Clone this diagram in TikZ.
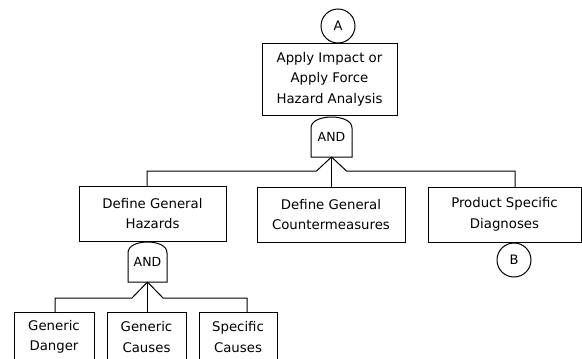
\documentclass[tikz,border=0pt]{standalone}
\usepackage{fontspec}
\setmainfont{DejaVu Sans}
\usetikzlibrary{calc}
\tikzset{
  every node/.style={inner sep=0pt,outer sep=0pt},
  txt/.style={font=\fontsize{13.3}{20.5}\selectfont,align=center},
  blk/.style={draw,line width=1pt,txt,anchor=center},
  conn/.style={draw,circle,line width=1pt,minimum size=34pt,font=\fontsize{13}{15}\selectfont},
  gatebox/.style={minimum width=#1,minimum height=40pt,font=\fontsize{12.5}{14}\selectfont},
  wire/.style={line width=1pt}
}
\newcommand{\gateshape}[1]{%
  \draw[wire] (#1.south west) -- ([yshift=-11pt]#1.north west)
    .. controls ([yshift=-3pt]#1.north west) and ([xshift=-9pt]#1.north) .. (#1.north)
    .. controls ([xshift=9pt]#1.north) and ([yshift=-3pt]#1.north east) .. ([yshift=-11pt]#1.north east)
    -- (#1.south east) -- cycle;}
\begin{document}
\begin{tikzpicture}[x=1pt,y=-1pt]
\path[use as bounding box] (0,0) rectangle (582,359);
\clip (0,0) rectangle (582,359);
% top
\node[conn] (A) at (338,26) {A};
\node[blk,minimum width=135pt,minimum height=72pt] (T) at (329.5,79) {Apply Impact or\\Apply Force\\Hazard Analysis};
\node[gatebox=41pt] (g1) at (331.5,137) {AND};
\gateshape{g1}
% second level
\node[blk,minimum width=147pt,minimum height=55pt] (L) at (152.5,213.5) {Define General\\Hazards};
\node[blk,minimum width=148pt,minimum height=55pt] (M) at (331,214.5) {Define General\\Countermeasures};
\node[blk,minimum width=153pt,minimum height=55pt] (R) at (504.5,214.5) {Product Specific\\Diagnoses};
\node[conn] (B) at (514,260) {B};
% connectors level 1
\coordinate (b1l) at (316.5,171);
\coordinate (b1r) at (346.5,171);
\coordinate (b1L) at (147,171);
\coordinate (b1R) at (515,171);
\draw[wire] (g1.south) -- (b1l) -- (b1L) -- (b1L |- L.north);
\draw[wire] (g1.south) -- (b1r) -- (b1R) -- (b1R |- R.north);
\draw[wire] (g1.south) -- (g1.south |- M.north);
% gate 2
\node[gatebox=39pt] (g2) at (147.5,262) {AND};
\gateshape{g2}
\node[blk,minimum width=80pt,minimum height=70pt] (c1) at (54,347) {};
\node[blk,minimum width=79pt,minimum height=70pt] (c2) at (146.5,347) {};
\node[blk,minimum width=78pt,minimum height=70pt] (c3) at (238,347) {};
\node[txt] (t1) at (54,337) {Generic\\Danger};
\node[txt] (t2) at (146.5,337) {Generic\\Causes};
\node[txt] (t3) at (238,337) {Specific\\Causes};
\coordinate (b2l) at (132,298);
\coordinate (b2r) at (163,298);
\coordinate (b2L) at (55,298);
\coordinate (b2R) at (247,298);
\draw[wire] (g2.south) -- (b2l) -- (b2L) -- (b2L |- c1.north);
\draw[wire] (g2.south) -- (b2r) -- (b2R) -- (b2R |- c3.north);
\draw[wire] (g2.south) -- (g2.south |- c2.north);
\end{tikzpicture}
\end{document}
